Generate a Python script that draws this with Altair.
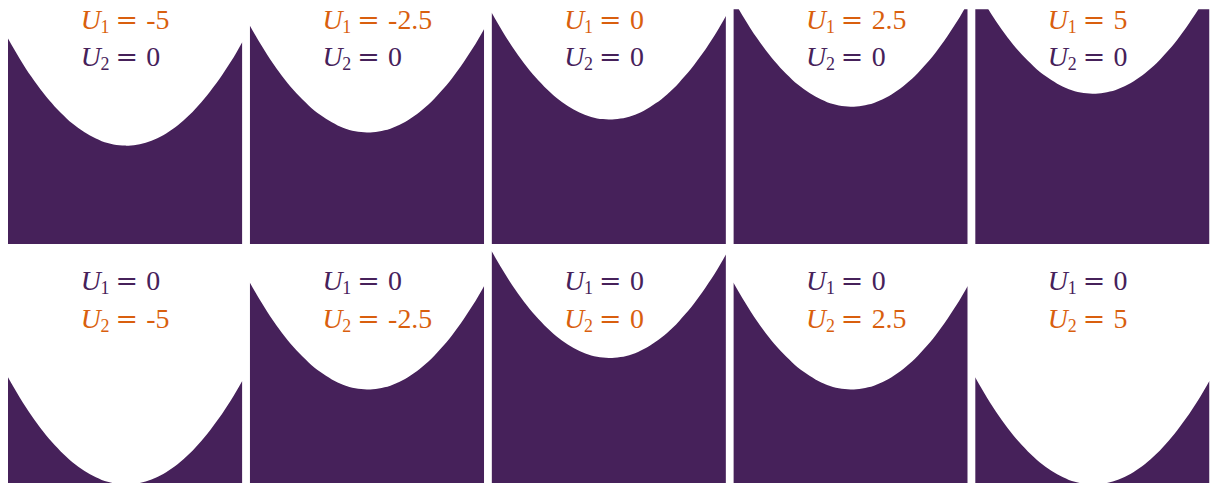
import altair as alt
import pandas as pd

# ---- data ----
u1_values = [-5, -2.5, 0, 2.5, 5, 0, 0, 0, 0, 0]
u2_values = [0, 0, 0, 0, 0, -5, -2.5, 0, 2.5, 5]
# height of the curve's minimum above each panel's bottom (panel spans 0..10)
vertex_heights = [4.19, 4.75, 5.30, 5.85, 6.40, 0.02, 4.06, 5.40, 4.06, 0.02]
# common curve shape: position across the panel and rise above the minimum
shape_x = [-1.00, -0.95, -0.90, -0.85, -0.80, -0.75, -0.70, -0.65, -0.60, -0.55,
           -0.50, -0.45, -0.40, -0.35, -0.30, -0.25, -0.20, -0.15, -0.10, -0.05,
           0.00, 0.05, 0.10, 0.15, 0.20, 0.25, 0.30, 0.35, 0.40, 0.45,
           0.50, 0.55, 0.60, 0.65, 0.70, 0.75, 0.80, 0.85, 0.90, 0.95, 1.00]
shape_rise = [4.56, 4.12, 3.70, 3.30, 2.93, 2.58, 2.25, 1.94, 1.66, 1.40,
              1.16, 0.94, 0.75, 0.58, 0.43, 0.30, 0.19, 0.11, 0.05, 0.02,
              0.00, 0.01, 0.04, 0.09, 0.16, 0.26, 0.38, 0.52, 0.69, 0.87,
              1.08, 1.31, 1.57, 1.85, 2.14, 2.47, 2.81, 3.18, 3.56, 3.97, 4.41]

PURPLE = "#46215a"
ORANGE = "#d95f0e"
SERIF = "Liberation Serif"
FS = 28
SUB = 18
W = 235.5
H = 236
# text baselines (first line, second line) for the top and bottom rows
ROW_BASELINES = [(20, 57), (40, 78)]


def label(base_y, color, sub, value):
    common = dict(align="left", baseline="alphabetic", color=color)
    u = alt.Chart().mark_text(font=SERIF, fontSize=FS, fontStyle="italic", text="U", **common).encode(
        x=alt.value(73), y=alt.value(base_y))
    s = alt.Chart().mark_text(font=SERIF, fontSize=SUB, text=sub, **common).encode(
        x=alt.value(93), y=alt.value(base_y + 4))
    eq = alt.Chart().mark_text(font="DejaVu Serif", fontSize=27, text="=", **common).encode(
        x=alt.value(108), y=alt.value(base_y))
    v = alt.Chart().mark_text(font=SERIF, fontSize=FS, text=value, **common).encode(
        x=alt.value(139), y=alt.value(base_y))
    return [u, s, eq, v]


def panel(p):
    d = pd.DataFrame({
        "x": shape_x,
        "e": [vertex_heights[p] + r for r in shape_rise],
    })
    area = alt.Chart(d).mark_area(color=PURPLE, interpolate="natural", clip=True).encode(
        x=alt.X("x:Q", scale=alt.Scale(domain=[-1, 1], nice=False, zero=False), axis=None),
        y=alt.Y("e:Q", scale=alt.Scale(domain=[0, 10], nice=False, zero=False), axis=None),
        y2=alt.datum(-2),
    )
    r = p // 5
    c1 = ORANGE if r == 0 else PURPLE
    c2 = PURPLE if r == 0 else ORANGE
    b1, b2 = ROW_BASELINES[r]
    layers = [area]
    layers += label(b1, c1, "1", f"{u1_values[p]:g}")
    layers += label(b2, c2, "2", f"{u2_values[p]:g}")
    return alt.layer(*layers).properties(width=W, height=H)


rows = [alt.hconcat(*[panel(p) for p in range(r * 5, r * 5 + 5)], spacing=7) for r in range(2)]
chart = alt.vconcat(*rows, spacing=6).properties(
    padding={"left": 0, "top": -2, "right": 0, "bottom": 0}
).configure_view(strokeWidth=0)

chart.save("out.html", embed_options={"renderer": "svg", "actions": False})
